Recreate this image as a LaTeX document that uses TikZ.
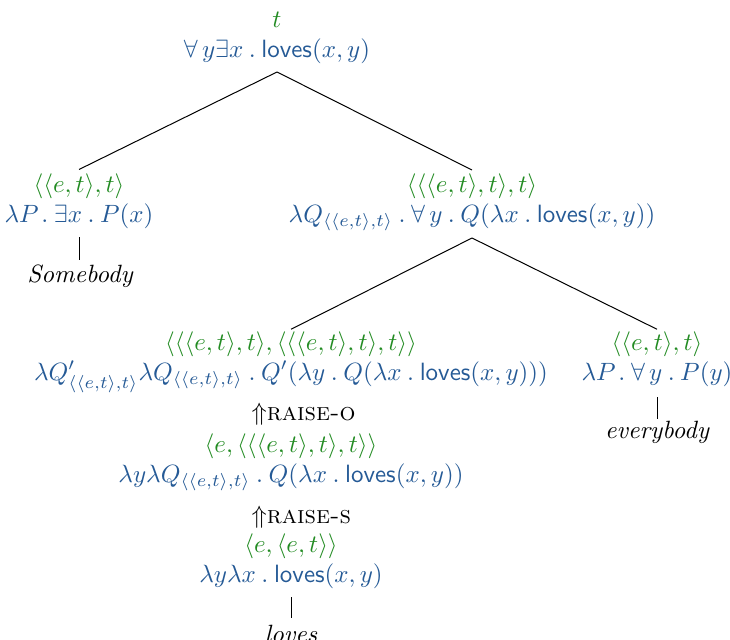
\documentclass[tikz,border=0pt]{standalone}
\usepackage{amsmath}
\definecolor{tgreen}{RGB}{34,139,34}
\definecolor{tblue}{RGB}{37,90,150}
\newcommand{\lv}{\textsf{loves}}
\newcommand{\dt}{\mathbin{.}}
\newcommand{\et}{\langle\langle e,t\rangle,t\rangle}
\begin{document}
\begin{tikzpicture}[x=0.4pt,y=-0.4pt,
  ty/.style={anchor=base, inner sep=0pt, text=tgreen},
  tm/.style={anchor=base, inner sep=0pt, text=tblue},
  wd/.style={anchor=base, inner sep=0pt, font=\itshape},
  rl/.style={anchor=base west, inner sep=0pt},
  edge/.style={draw=black, line width=0.4pt}]
\useasboundingbox (0,0) rectangle (730,639);
% root
\node[ty] (tyTop) at (277,28) {$t$};
\node[tm] (tmTop) at (277,58) {$\forall\, y\exists x\dt\lv(x,y)$};
% left
\node[ty] (tyL) at (79,192) {$\et$};
\node[tm] (tmL) at (79,222) {$\lambda P\dt\exists x\dt P(x)$};
\node[wd] (wL) at (80,282) {Somebody};
% right
\node[ty] (tyR) at (472,192) {$\langle\langle\langle e,t\rangle,t\rangle,t\rangle$};
\node[tm] (tmR) at (472,222) {$\lambda Q_{\et}\dt\forall\, y\dt Q(\lambda x\dt\lv(x,y))$};
% right-left
\node[ty] (tyRL) at (291,350) {$\langle\langle\langle e,t\rangle,t\rangle,\langle\langle\langle e,t\rangle,t\rangle,t\rangle\rangle$};
\node[tm] (tmRL) at (291,380) {$\lambda Q'_{\et}\lambda Q_{\et}\dt Q'(\lambda y\dt Q(\lambda x\dt\lv(x,y)))$};
% right-right
\node[ty] (tyRR) at (657,350) {$\et$};
\node[tm] (tmRR) at (657,380) {$\lambda P\dt\forall\, y\dt P(y)$};
\node[wd] (wRR) at (657,438) {everybody};
% raise chain
\node[rl] (ro) at (251,420) {$\Uparrow$\textsc{raise-o}};
\node[ty] (tyM) at (291,452) {$\langle e,\langle\langle\langle e,t\rangle,t\rangle,t\rangle\rangle$};
\node[tm] (tmM) at (291,482) {$\lambda y\lambda Q_{\et}\dt Q(\lambda x\dt\lv(x,y))$};
\node[rl] (rs) at (251,523) {$\Uparrow$\textsc{raise-s}};
\node[ty] (tyB) at (291,552) {$\langle e,\langle e,t\rangle\rangle$};
\node[tm] (tmB) at (291,582) {$\lambda y\lambda x\dt\lv(x,y)$};
\node[wd] (wB) at (291,642) {loves};
% connectors
\draw[edge] ([yshift=-5.6pt]tmTop.base) -- ([yshift=9pt]tyL.base);
\draw[edge] ([yshift=-5.6pt]tmTop.base) -- ([yshift=8.8pt]tyR.base);
\draw[edge] ([yshift=-6.4pt]tmR.base) -- ([yshift=8.3pt]tyRL.base);
\draw[edge] ([yshift=-6.4pt]tmR.base) -- ([yshift=8.3pt]tyRR.base);
\draw[edge] ([yshift=-6pt]tmL.base) -- ([yshift=8.8pt]wL.base -| tmL.base);
\draw[edge] ([yshift=-6.8pt]tmRR.base) -- ([yshift=7.6pt]wRR.base);
\draw[edge] ([yshift=-6pt]tmB.base) -- ([yshift=9.6pt]wB.base);
\end{tikzpicture}
\end{document}
